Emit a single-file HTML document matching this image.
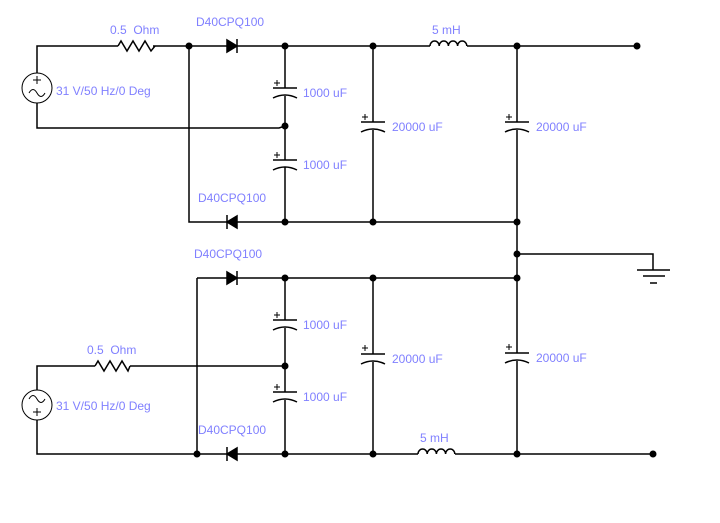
<!DOCTYPE html>
<html><head><style>html,body{margin:0;padding:0;background:#fff}svg{display:block}</style></head><body>
<svg width="720" height="523" xmlns="http://www.w3.org/2000/svg">
<g stroke="#000" stroke-width="1.5" fill="none">
<path d="M37,73 V46 H118 M153,46 H227 M237,46 H430 M467,46 H637"/>
<path d="M37,103 V128 H279 L285,126"/>
<path d="M189,46 V222 H227 M237,222 H517"/>
<path d="M285,46 V88 M285,96 V160 M285,167 V222"/>
<path d="M373,46 V122 M373,130 V222"/>
<path d="M517,46 V122 M517,130 V278"/>
<path d="M517,254 H653 V270 M637,270 H670 M643,276 H665 M650,283 H657"/>
<path d="M118,46 l3,-5 l6,10 l6,-10 l6,10 l6,-10 l6,10 l4,-5"/>
<path d="M430,46 a4.6,5 0 0 1 9.2,0 a4.6,5 0 0 1 9.2,0 a4.6,5 0 0 1 9.2,0 a4.6,5 0 0 1 9.2,0"/>
<path d="M197,278 H227 M237,278 H517"/>
<path d="M197,278 V454"/>
<path d="M37,390 V366 H95 M130,366 H285"/>
<path d="M37,420 V454 H227 M237,454 H418 M455,454 H653"/>
<path d="M285,278 V320 M285,328 V392 M285,400 V454"/>
<path d="M373,278 V354 M373,362 V454"/>
<path d="M517,278 V353 M517,361 V454"/>
<path d="M95,366 l3,-5 l6,10 l6,-10 l6,10 l6,-10 l6,10 l2,-5"/>
<path d="M418,454 a4.6,5 0 0 1 9.2,0 a4.6,5 0 0 1 9.2,0 a4.6,5 0 0 1 9.2,0 a4.6,5 0 0 1 9.2,0"/>
<circle cx="37" cy="88" r="15" stroke-width="1"/>
<path d="M29,93 q4,-7 8,0 q4,7 8,0" stroke-width="1"/>
<path d="M33,80 h8 M37,76 v8" stroke-width="1"/>
<circle cx="37" cy="405" r="15" stroke-width="1"/>
<path d="M29,399 q4,-7 8,0 q4,7 8,0" stroke-width="1"/>
<path d="M33,412 h8 M37,408 v8" stroke-width="1"/>
</g>
<g stroke="#000" stroke-width="1.5" fill="none">
<path d="M273,88 h24 M273,98 q12,-6 24,0"/>
<path d="M273,160 h24 M273,170 q12,-6 24,0"/>
<path d="M361,122 h24 M361,132 q12,-6 24,0"/>
<path d="M505,122 h24 M505,132 q12,-6 24,0"/>
<path d="M273,320 h24 M273,330 q12,-6 24,0"/>
<path d="M273,392 h24 M273,402 q12,-6 24,0"/>
<path d="M361,354 h24 M361,364 q12,-6 24,0"/>
<path d="M505,353 h24 M505,363 q12,-6 24,0"/>
</g>
<g stroke="#000" stroke-width="1">
<path d="M274,83 h6 M277,80 v6"/>
<path d="M274,155 h6 M277,152 v6"/>
<path d="M362,117 h6 M365,114 v6"/>
<path d="M506,117 h6 M509,114 v6"/>
<path d="M274,315 h6 M277,312 v6"/>
<path d="M274,387 h6 M277,384 v6"/>
<path d="M362,348 h6 M365,345 v6"/>
<path d="M506,347 h6 M509,344 v6"/>
</g>
<g fill="#000" stroke="#000" stroke-width="1.5">
<polygon points="227,40 227,52 237,46"/><line x1="237" y1="39" x2="237" y2="53"/>
<polygon points="237,216 237,228 227,222"/><line x1="227" y1="215" x2="227" y2="229"/>
<polygon points="227,272 227,284 237,278"/><line x1="237" y1="271" x2="237" y2="285"/>
<polygon points="237,448 237,460 227,454"/><line x1="227" y1="447" x2="227" y2="461"/>
</g>
<g fill="#000">
<circle cx="189" cy="46" r="3.5"/><circle cx="285" cy="46" r="3.5"/><circle cx="373" cy="46" r="3.5"/><circle cx="517" cy="46" r="3.5"/><circle cx="637" cy="46" r="3.5"/>
<circle cx="285" cy="126" r="3.5"/>
<circle cx="285" cy="222" r="3.5"/><circle cx="373" cy="222" r="3.5"/><circle cx="517" cy="222" r="3.5"/>
<circle cx="517" cy="254" r="3.5"/>
<circle cx="285" cy="278" r="3.5"/><circle cx="373" cy="278" r="3.5"/><circle cx="517" cy="278" r="3.5"/>
<circle cx="285" cy="366" r="3.5"/>
<circle cx="197" cy="454" r="3.5"/><circle cx="285" cy="454" r="3.5"/><circle cx="373" cy="454" r="3.5"/><circle cx="517" cy="454" r="3.5"/><circle cx="653" cy="454" r="3.5"/>
</g>
<g fill="#8080ff" font-family="Liberation Sans, sans-serif" font-size="12">
<text x="110" y="34">0.5&#160; Ohm</text>
<text x="196" y="26">D40CPQ100</text>
<text x="56" y="95">31 V/50 Hz/0 Deg</text>
<text x="303" y="97">1000 uF</text>
<text x="303" y="169">1000 uF</text>
<text x="392" y="131">20000 uF</text>
<text x="536" y="131">20000 uF</text>
<text x="432" y="34">5 mH</text>
<text x="198" y="202">D40CPQ100</text>
<text x="194" y="258">D40CPQ100</text>
<text x="87" y="354">0.5&#160; Ohm</text>
<text x="56" y="410">31 V/50 Hz/0 Deg</text>
<text x="303" y="329">1000 uF</text>
<text x="303" y="401">1000 uF</text>
<text x="392" y="363">20000 uF</text>
<text x="536" y="362">20000 uF</text>
<text x="420" y="442">5 mH</text>
<text x="198" y="434">D40CPQ100</text>
</g>
</svg>
</body></html>
